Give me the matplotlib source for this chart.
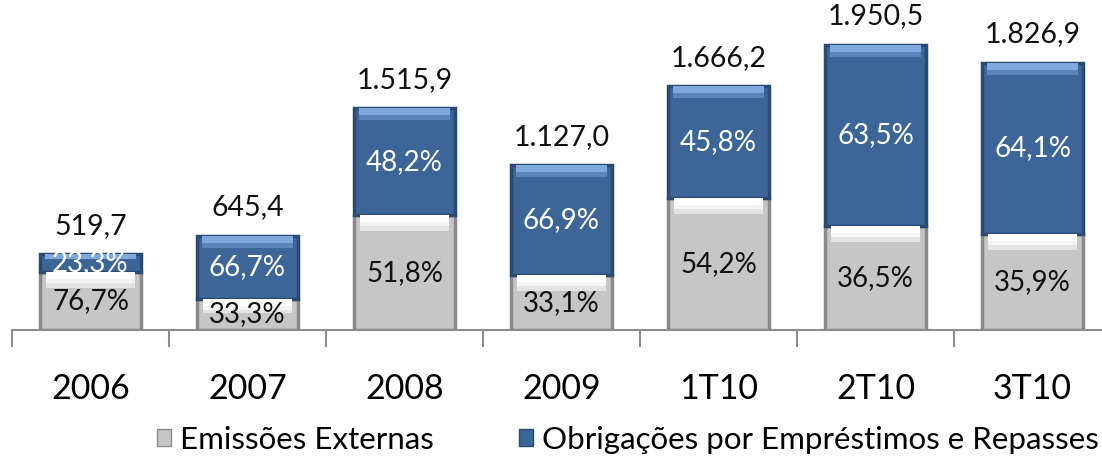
import numpy as np
import matplotlib.pyplot as plt
from matplotlib.patches import Patch

# dados (R$ milhões)
periodos = ['2006', '2007', '2008', '2009', '1T10', '2T10', '3T10']
totais = [519.7, 645.4, 1515.9, 1127.0, 1666.2, 1950.5, 1826.9]
pct_externas = [76.7, 33.3, 51.8, 33.1, 54.2, 36.5, 35.9]
pct_obrigacoes = [23.3, 66.7, 48.2, 66.9, 45.8, 63.5, 64.1]
rotulos_totais = ['519,7', '645,4', '1.515,9', '1.127,0', '1.666,2', '1.950,5', '1.826,9']

plt.rcParams['font.family'] = ['Lato', 'DejaVu Sans']

cinza = '#c6c6c6'
cinza_borda = '#8a8a8a'
azul = '#3d6698'
azul_borda = '#2a4a72'
azul_claro = '#7ea8de'

x = np.arange(len(periodos))
tot = np.array(totais)
ext = tot * np.array(pct_externas) / 100
obr = tot - ext

fig = plt.figure(figsize=(11.02, 4.67), dpi=100)
ax = fig.add_axes([12 / 1102, 137 / 467, 1099 / 1102, 330 / 467])
ymax = 2256
ax.set_xlim(-0.5, 6.5)
ax.set_ylim(0, ymax)
bw = 0.64
px = ymax / 330  # unidades por pixel

# segmento cinza
ax.bar(x, ext, bw, color=cinza, edgecolor=cinza_borda, linewidth=2.5, zorder=2)
# realce branco no topo do cinza (degradê simples)
for k, (h, c) in enumerate([(16, '#e4e4e4'), (11, '#f4f4f4'), (7, 'white')]):
    hh = np.minimum(h * px, ext * 0.45)
    ax.bar(x, hh, bw * 0.88, bottom=ext - hh, color=c, linewidth=0, zorder=3 + k * 0.1)
# segmento azul
ax.bar(x, obr, bw, bottom=ext, color=azul, edgecolor=azul_borda, linewidth=2.5, zorder=2)
for k, (h, c) in enumerate([(12, '#5a84ba'), (7, azul_claro)]):
    hh = np.minimum(h * px, obr * 0.3)
    ax.bar(x, hh, bw * 0.9, bottom=tot - hh, color=c, linewidth=0, zorder=3 + k * 0.1)

for i in range(len(periodos)):
    ax.text(x[i], ext[i] / 2, f'{pct_externas[i]:.1f}%'.replace('.', ','),
            ha='center', va='center', fontsize=20, color='#111111', zorder=4)
    ax.text(x[i], ext[i] + obr[i] / 2, f'{pct_obrigacoes[i]:.1f}%'.replace('.', ','),
            ha='center', va='center', fontsize=20, color='white', zorder=4)
    ax.annotate(rotulos_totais[i], (x[i], tot[i]), xytext=(0, 11), textcoords='offset points',
                ha='center', va='bottom', fontsize=20.5, color='#111111')

# eixo
for s in ['top', 'right', 'left']:
    ax.spines[s].set_visible(False)
ax.spines['bottom'].set_color('#8c8c8c')
ax.spines['bottom'].set_linewidth(1.5)
ax.set_yticks([])
ax.set_xticks(np.arange(-0.5, 7, 1), minor=True)
ax.tick_params(axis='x', which='minor', length=12, width=1.5, color='#8c8c8c')
ax.set_xticks(x)
ax.set_xticklabels(periodos, fontsize=24.5)
ax.tick_params(axis='x', which='major', length=0, pad=31)

handles = [Patch(facecolor=cinza, edgecolor=cinza_borda, label='Emissões Externas'),
           Patch(facecolor=azul, edgecolor=azul_borda, label='Obrigações por Empréstimos e Repasses')]
fig.legend(handles=handles, loc='center left', bbox_to_anchor=(0.131, 0.058), ncol=2,
           frameon=False, fontsize=22.5, handlelength=0.45, handleheight=0.45,
           handletextpad=0.3, columnspacing=2.7, borderaxespad=0)

fig.savefig('out.png', dpi=100)
